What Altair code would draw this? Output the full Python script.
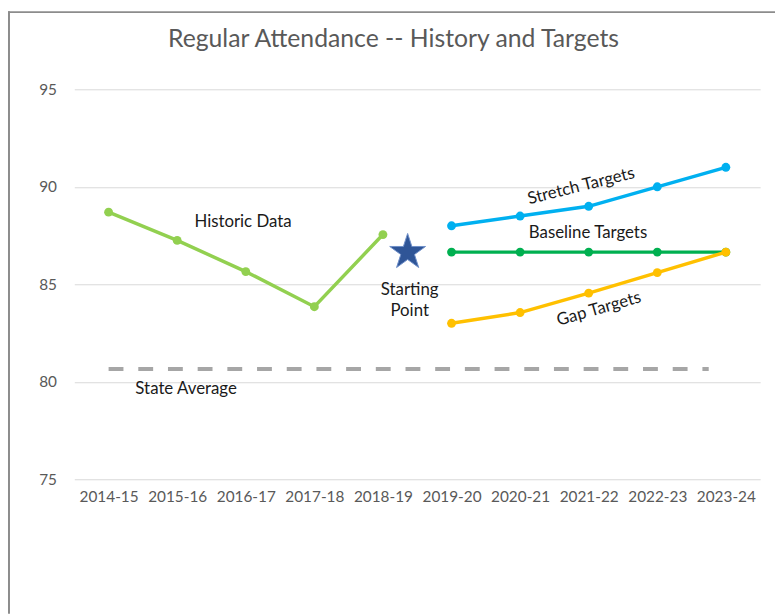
import altair as alt
import pandas as pd

years = ["2014-15", "2015-16", "2016-17", "2017-18", "2018-19",
         "2019-20", "2020-21", "2021-22", "2022-23", "2023-24"]
historic = [88.7, 87.25, 85.65, 83.85, 87.55]
stretch = [88.0, 88.5, 89.0, 90.0, 91.0]
baseline = [86.65, 86.65, 86.65, 86.65, 86.65]
gap = [83.0, 83.55, 84.55, 85.6, 86.65]
state_average = 80.65
state_span = [0, 8.75]
start_point = {"x": 4.36, "y": 86.64}

ann_text = ["Historic Data", "Starting\nPoint", "State Average",
            "Stretch Targets", "Baseline Targets", "Gap Targets"]
ann_x = [1.96, 4.39, 1.13, 6.89, 6.99, 7.15]
ann_y = [88.2, 84.7, 79.62, 90.03, 87.64, 83.73]
ann_angle = [0, 0, 0, 346, 0, 344]

FONT = "Lato, sans-serif"

hist_df = pd.DataFrame({"x": list(range(0, 5)), "y": historic})
stretch_df = pd.DataFrame({"x": list(range(5, 10)), "y": stretch})
base_df = pd.DataFrame({"x": list(range(5, 10)), "y": baseline})
gap_df = pd.DataFrame({"x": list(range(5, 10)), "y": gap})
state_df = pd.DataFrame({"x": state_span, "y": [state_average] * 2})
star_df = pd.DataFrame([start_point])
ann_df = pd.DataFrame({"text": ann_text, "x": ann_x, "y": ann_y, "angle": ann_angle})

label_expr = "[" + ",".join("'%s'" % y for y in years) + "][datum.value]"

xs = alt.Scale(domain=[-0.5, 9.5], nice=False, zero=False)
ys = alt.Scale(domain=[75, 95], nice=False, zero=False)

X = alt.X("x:Q", scale=xs, axis=alt.Axis(
    values=list(range(10)), labelExpr=label_expr, title=None, grid=False,
    domain=False, ticks=False, labelPadding=10, labelFontSize=15.5,
    labelColor="#595959", labelFont=FONT))
Y = alt.Y("y:Q", scale=ys, axis=alt.Axis(
    values=[75, 80, 85, 90, 95], title=None, grid=True, gridColor="#D9D9D9",
    domain=False, ticks=False, labelPadding=18, labelFontSize=15.5,
    labelColor="#595959", labelFont=FONT))


def series(df, color):
    line = alt.Chart(df).mark_line(color=color, strokeWidth=3.5).encode(x=X, y=Y)
    pts = alt.Chart(df).mark_point(color=color, filled=True, opacity=1, size=80).encode(x=X, y=Y)
    return line + pts


state = alt.Chart(state_df).mark_line(color="#A6A6A6", strokeWidth=4,
                                      strokeDash=[15, 15]).encode(x=X, y=Y)

star_path = ("M0,-1L0.2245,-0.309L0.951,-0.309L0.363,0.118L0.588,0.809L0,0.382"
             "L-0.588,0.809L-0.363,0.118L-0.951,-0.309L-0.2245,-0.309Z")
star = alt.Chart(star_df).mark_point(shape=star_path, filled=True, size=1450,
                                     fill="#2F5597", stroke="#6F8FC8",
                                     strokeWidth=1, opacity=1).encode(x=X, y=Y)

texts = []
for i in range(len(ann_text)):
    sub = ann_df.iloc[[i]]
    t = alt.Chart(sub).mark_text(font=FONT, fontSize=17, color="#1A1A1A",
                                 angle=int(ann_angle[i]), lineBreak="\n",
                                 lineHeight=21).encode(
        x=X, y=Y, text="text:N")
    texts.append(t)

# chart frame (top and left edges, as in the original picture)
frame_top = alt.Chart(star_df).mark_rule(color="#8C8C8C", strokeWidth=2).encode(
    x=alt.value(-67), x2=alt.value(712), y=alt.value(-78))
frame_left = alt.Chart(star_df).mark_rule(color="#8C8C8C", strokeWidth=2).encode(
    x=alt.value(-66), y=alt.value(-79), y2=alt.value(530))

chart = alt.layer(
    frame_top, frame_left,
    state,
    series(hist_df, "#92D050"),
    series(stretch_df, "#00B0F0"),
    series(base_df, "#00B050"),
    series(gap_df, "#FFC000"),
    star,
    *texts,
).properties(
    width=693, height=394,
    padding={"left": 67, "top": 79, "right": 15, "bottom": 133},
    title=alt.Title("Regular Attendance -- History and Targets", font=FONT,
                    fontSize=25, fontWeight="normal", color="#595959",
                    offset=-42, dx=-24, anchor="middle", frame="group"),
    autosize=alt.AutoSizeParams(type="none"),
).configure_view(stroke=None)

chart.save("out.html", embed_options={"renderer": "svg", "actions": False})
